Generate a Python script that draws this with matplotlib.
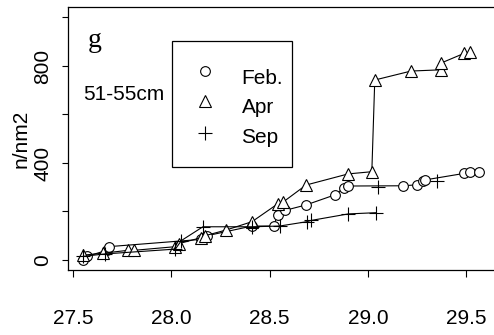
"""
Cumulative density profile for the 51-55cm size class (panel g).
"""

import matplotlib
matplotlib.use('Agg')
import matplotlib.pyplot as plt
from matplotlib.patches import Rectangle
from matplotlib.lines import Line2D

# Feb. survey
feb_x = [27.55, 27.57, 27.67, 27.68, 28.15, 28.17, 28.18, 28.41, 28.52, 28.54,
         28.58, 28.685, 28.83, 28.88, 28.90, 29.18, 29.25, 29.28, 29.29, 29.49,
         29.52, 29.565]
feb_y = [2, 15, 40, 55, 85, 95, 100, 140, 140, 185,
         205, 227, 268, 298, 305, 306, 310, 326, 330, 357,
         362, 362]

# Apr survey
apr_x = [27.55, 27.65, 27.78, 27.81, 28.02, 28.04, 28.15, 28.17, 28.28, 28.41,
         28.54, 28.57, 28.685, 28.90, 29.02, 29.035, 29.22, 29.37, 29.37, 29.49,
         29.52]
apr_y = [20, 28, 40, 40, 55, 68, 92, 100, 124, 158,
         231, 240, 309, 355, 364, 742, 779, 784, 811, 852,
         856]

# Sep survey (connected run, then two isolated stations)
sep_x = [27.55, 27.66, 28.02, 28.05, 28.16, 28.41, 28.55, 28.69, 28.71, 28.90,
         29.04]
sep_y = [15, 25, 45, 80, 137, 137, 140, 158, 163, 190,
         195]
sep_extra_x = [29.05, 29.35]
sep_extra_y = [302, 326]

x_ticks = [27.5, 28.0, 28.5, 29.0, 29.5]
x_tick_labels = ['27.5', '28.0', '28.5', '29.0', '29.5']
y_ticks = [0, 200, 400, 600, 800, 1000]
y_tick_labels = ['0', '', '400', '', '800', '']

legend_labels = ['Feb.', 'Apr', 'Sep']
legend_markers = ['o', '^', '+']

sans = 'Liberation Sans'
serif = 'Liberation Serif'
plt.rcParams['font.family'] = [sans, 'DejaVu Sans']

W, H = 494, 335
fig = plt.figure(figsize=(W / 100, H / 100), dpi=100)

# axes box: left edge, bottom and top in pixels, right edge runs off the figure
left_px, right_px, top_px, bottom_px = 67.5, 500, 7, 270
ax = fig.add_axes([left_px / W, (H - bottom_px) / H,
                   (right_px - left_px) / W, (bottom_px - top_px) / H])


def frac(px, py):
    """Pixel position (from top-left of the figure) to axes fraction."""
    return ((px - left_px) / (right_px - left_px),
            (bottom_px - py) / (bottom_px - top_px))


style = dict(color='black', lw=0.8, mec='black', mfc='white', mew=0.8)
ax.plot(feb_x, feb_y, marker='o', ms=7, **style)
ax.plot(apr_x, apr_y, marker='^', ms=8, **style)
ax.plot(sep_x, sep_y, marker='+', ms=10, **style)
ax.plot(sep_extra_x, sep_extra_y, ls='none', marker='+', ms=10,
        mec='black', mew=0.8)

ax.set_xlim(27.4705, 29.6726)
ax.set_ylim(-41.2, 1043)

ax.set_xticks(x_ticks)
ax.set_xticklabels(x_tick_labels)
ax.set_yticks(y_ticks)
ax.set_yticklabels(y_tick_labels, rotation=90, va='center')

ax.tick_params(axis='x', length=5, width=0.8, pad=23, labelsize=15)
ax.tick_params(axis='y', length=4, width=0.8, pad=7, labelsize=15)
for side in ('left', 'bottom', 'top'):
    ax.spines[side].set_linewidth(0.9)
ax.spines['right'].set_visible(False)

ax.set_ylabel('n/nm2', fontsize=15, labelpad=2)

ax.text(*frac(88, 47), 'g', transform=ax.transAxes, fontsize=20,
        family=serif, ha='left', va='baseline')
ax.text(*frac(83, 100), '51-55cm', transform=ax.transAxes, fontsize=15,
        ha='left', va='baseline')

# legend box drawn by hand (R-style: wide gap on the left, tight on the right)
x0, y0 = frac(171.7, 166.7)
x1, y1 = frac(292.3, 40.7)
ax.add_patch(Rectangle((x0, y0), x1 - x0, y1 - y0, transform=ax.transAxes,
                       fill=False, ec='black', lw=0.9, clip_on=False))
marker_rows = [71, 101, 133]
text_rows = [84, 113, 143]
marker_sizes = [7, 8, 10]
for lab, mk, ms, my, ty in zip(legend_labels, legend_markers, marker_sizes,
                               marker_rows, text_rows):
    mx, myf = frac(204.5, my)
    ax.add_line(Line2D([mx], [myf], transform=ax.transAxes, ls='none',
                       marker=mk, ms=ms, mec='black', mfc='none', mew=0.8,
                       clip_on=False))
    ax.text(*frac(241.5, ty), lab, transform=ax.transAxes, fontsize=15,
            ha='left', va='baseline')

fig.savefig('out.png', dpi=100)
